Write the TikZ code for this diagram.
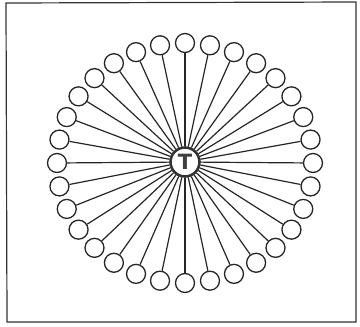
\documentclass[tikz,border=0pt]{standalone}
\usepackage{fontspec}
\setsansfont{DejaVu Sans}
\begin{document}
\begin{tikzpicture}[x=1pt,y=-1pt,
  leaf/.style={circle,draw=black!85,line width=1.3pt,minimum size=19pt,inner sep=0pt,fill=white},
  hub/.style={circle,draw=black!80,line width=2.6pt,minimum size=29pt,inner sep=0pt,fill=white,font=\sffamily\bfseries\fontsize{21}{21}\selectfont,text=black!75},
  spoke/.style={draw=black!85,line width=1.2pt}]
\useasboundingbox (0,0) rectangle (360,327);
\draw[black!80,line width=1.2pt] (6,3) -- (356,2) -- (356,322) -- (7,322) -- cycle;
\node[hub] (t) at (185,162) {T};
\foreach \i in {0,...,31}{
  \pgfmathsetmacro{\a}{\i*11.25}
  \node[leaf] (c\i) at ({185+128*cos(\a)},{163-120*sin(\a)}) {};
  \draw[spoke] (t) -- (c\i);
}
\end{tikzpicture}
\end{document}
